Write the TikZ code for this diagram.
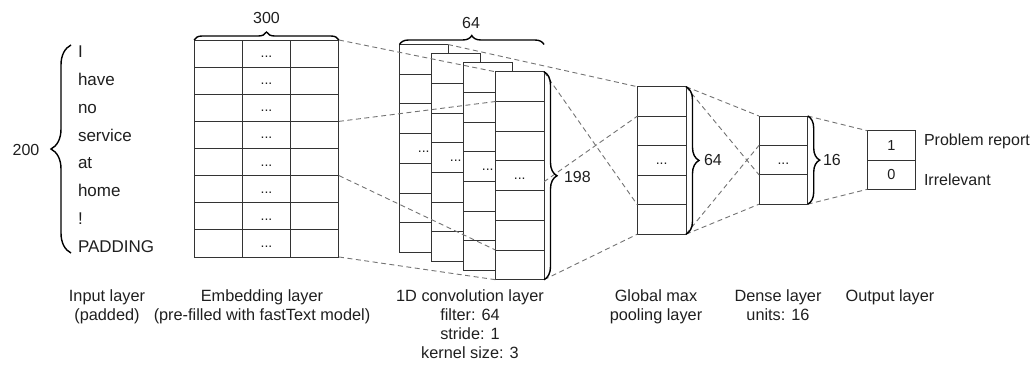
\documentclass[tikz,border=0pt]{standalone}
\usepackage{fontspec}
\setmainfont{Liberation Sans}
\usetikzlibrary{decorations.pathreplacing,calc}

\begin{document}
\begin{tikzpicture}[x=1pt,y=-1pt,
  every node/.style={inner sep=0pt, outer sep=0pt, text=black!88},
  box/.style n args={2}{draw=black!80, line width=1pt, fill=white,
    minimum width=#1, minimum height=#2, anchor=north west},
  dotcell/.style={font=\fontsize{14}{14}\selectfont, text height=8pt, text depth=0pt},
  link/.style={draw=black!55, line width=0.9pt, dash pattern=on 5pt off 3.5pt},
  curly/.style={draw=black, line width=1.4pt, decorate,
    decoration={brace, amplitude=#1}},
  word/.style={font=\fontsize{17}{20}\selectfont, anchor=base west},
  num/.style={font=\fontsize{16}{19}\selectfont},
  caption/.style={font=\fontsize{16.3}{19}\selectfont, align=center, anchor=north},
]
\useasboundingbox (0,0) rectangle (1035,364);

% input tokens
\foreach \w [count=\i] in {I,have,no,service,at,home,!,PADDING}
  \node[word] (w\i) at (78, {57.3+27.9*(\i-1)}) {\w};
\coordinate (inB) at (71,253);
\coordinate (inT) at (71,45);
\draw[curly=20] (inB) -- (inT);
\node[num] (n200) at (26,150) {200};

% embedding matrix
\foreach \r in {1,...,8}
  \foreach \c in {1,2,3}
    \node[box={48.33pt}{27.125pt}, dotcell] (emb-\r-\c)
      at ({194+48.33*(\c-1)}, {40+27.125*(\r-1)}) {\ifnum\c=2 ...\fi};
\draw[curly=8] (emb-1-1.north west) -- (emb-1-3.north east);
\node[num] (n300) at (266.5,18) {300};

% convolution feature maps
\foreach \k in {1,...,4}
  \foreach \r in {1,...,7}
    \node[box={48.5pt}{29.7pt}, dotcell] (conv\k-\r)
      at ({399.5+32*(\k-1)}, {44.5+9.1*(\k-1)+29.7*(\r-1)}) {\ifnum\r=4 ...\fi};

% global max pooling
\foreach \r in {1,...,5}
  \node[box={48.7pt}{29.5pt}, dotcell] (pool-\r)
    at (637.3, {86.7+29.5*(\r-1)}) {\ifnum\r=3 ...\fi};

% dense layer
\foreach \r in {1,2,3}
  \node[box={48.7pt}{29.4pt}, dotcell] (dense-\r)
    at (759, {116+29.4*(\r-1)}) {\ifnum\r=2 ...\fi};

% output layer
\node[box={48.4pt}{29.3pt}, font=\fontsize{14.5}{14.5}\selectfont] (out-1) at (867.3,130.7) {1};
\node[box={48.4pt}{29.3pt}, font=\fontsize{14.5}{14.5}\selectfont] (out-2) at (867.3,160) {0};

% receptive fields
\draw[link] (emb-1-3.north east) -- (conv4-1.north west);
\draw[link] (emb-3-3.south east) -- (conv4-1.south west);
\draw[link] (emb-5-3.south east) -- (conv4-6.south west);
\draw[link] (emb-8-3.south east) -- (conv4-7.south west);

\draw[link] (conv1-1.north east) -- (pool-1.north west);
\draw[link] (conv4-1.north east) -- (pool-4.south west);
\draw[link] ([yshift=-6pt]conv4-4.east) -- (pool-1.south west);
\draw[link] (conv4-7.south east) -- (pool-5.south west);

\draw[link] (pool-1.north east) -- (dense-1.north west);
\draw[link] (pool-1.north east) -- (dense-2.south west);
\draw[link] (pool-5.south east) -- (dense-1.south west);
\draw[link] (pool-5.south east) -- (dense-3.south west);

\draw[link] (dense-1.north east) -- (out-1.north west);
\draw[link] (dense-3.south east) -- (out-2.south west);

% size braces
\draw[curly=9] (conv1-1.north west) -- (conv1-1.north west -| conv4-1.north east);
\node[num] (n64a) at (471,23) {64};
\draw[curly=13] (conv4-1.north east) -- (conv4-7.south east);
\node[num, anchor=west] (n198) at (564,177) {198};
\draw[curly=13] (pool-1.north east) -- (pool-5.south east);
\node[num, anchor=west] (n64b) at (704,160) {64};
\draw[curly=12] (dense-1.north east) -- (dense-3.south east);
\node[num, anchor=west] (n16) at (823,160) {16};

% class labels
\node[num, anchor=base west] (lab1) at (924,145.5) {Problem report};
\node[num, anchor=base west] (lab0) at (924,185.5) {Irrelevant};

% layer captions
\node[caption] (cap-in) at (107,290) {Input layer\\(padded)};
\node[caption] (cap-emb) at (262,290) {Embedding layer\\(pre-filled with fastText model)};
\node[caption] (cap-conv) at (470,290) {1D convolution layer\\filter: 64\\stride: 1\\kernel size: 3};
\node[caption] (cap-pool) at (656,290) {Global max\\pooling layer};
\node[caption] (cap-dense) at (778,290) {Dense layer\\units: 16};
\node[caption] (cap-out) at (890,290) {Output layer};
\end{tikzpicture}
\end{document}
